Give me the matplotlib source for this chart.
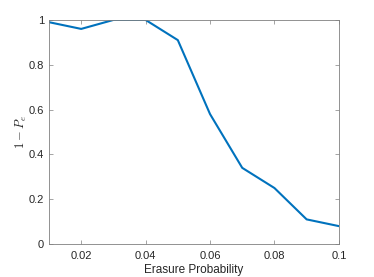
import matplotlib
matplotlib.use('Agg')
import matplotlib.pyplot as plt

# erasure probability vs success rate
erasure_prob = [0.01, 0.02, 0.03, 0.04, 0.05, 0.06, 0.07, 0.08, 0.09, 0.10]
success = [0.99, 0.96, 1.0, 1.0, 0.91, 0.58, 0.34, 0.25, 0.11, 0.08]
xticks = [0.02, 0.04, 0.06, 0.08, 0.1]
xticklabels = ['0.02', '0.04', '0.06', '0.08', '0.1']
yticks = [0, 0.2, 0.4, 0.6, 0.8, 1]
yticklabels = ['0', '0.2', '0.4', '0.6', '0.8', '1']

plt.rcParams['font.family'] = ['Liberation Sans', 'DejaVu Sans']
plt.rcParams['mathtext.fontset'] = 'cm'

fig = plt.figure(figsize=(3.74, 2.77), dpi=100)
ax = fig.add_axes([0.131, 0.119, 0.775, 0.809])
ax.plot(erasure_prob, success, color='#0072BD', linewidth=1.5)

ax.set_xlim(0.01, 0.1)
ax.set_ylim(0, 1)
ax.set_xticks(xticks)
ax.set_xticklabels(xticklabels)
ax.set_yticks(yticks)
ax.set_yticklabels(yticklabels)

gray = '#262626'
for s in ax.spines.values():
    s.set_color('#808080')
    s.set_linewidth(0.6)
ax.tick_params(direction='in', length=3, width=0.5, color='#808080',
               labelsize=8, labelcolor=gray, top=True, right=True)
ax.tick_params(axis='x', pad=5)
ax.set_xlabel('Erasure Probability', fontsize=8.5, color=gray, labelpad=2)
ax.set_ylabel(r'$1-P_e$', fontsize=9, color=gray, labelpad=0)

fig.savefig('out.png', dpi=100)
